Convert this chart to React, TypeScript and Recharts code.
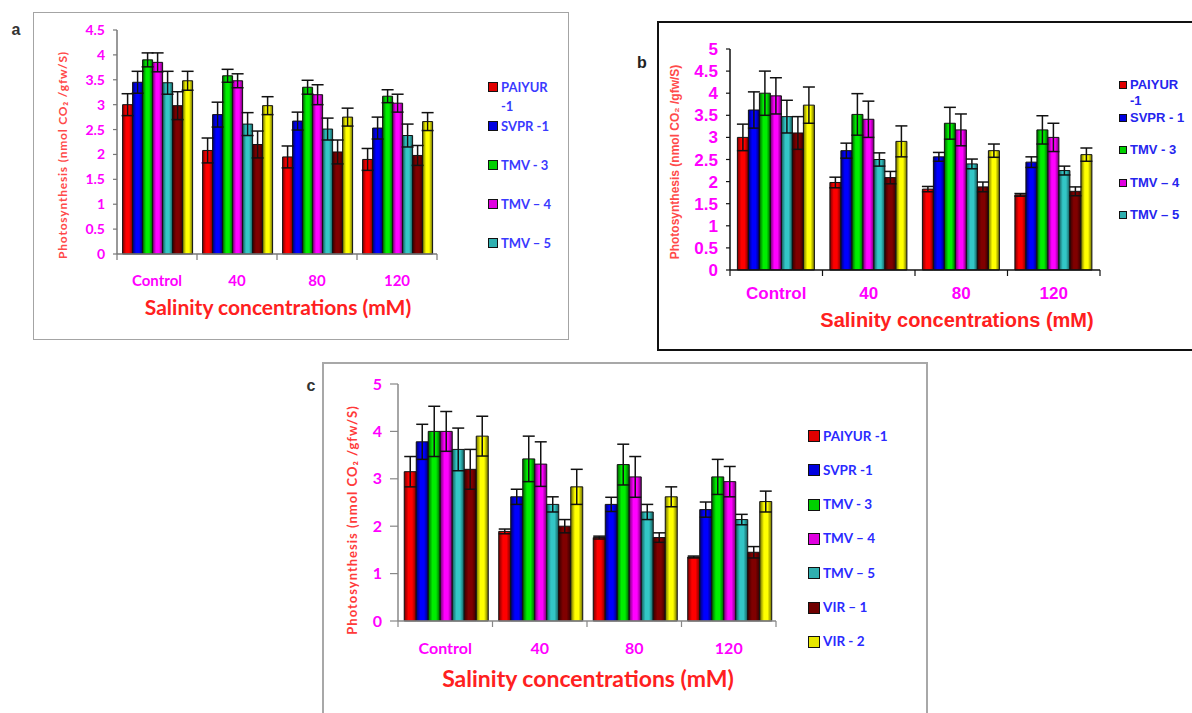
import React from 'react';
import { BarChart, Bar, XAxis, YAxis, ErrorBar } from 'recharts';

const categories = ['Control', '40', '80', '120'];
const seriesNames = ['PAIYUR -1', 'SVPR -1', 'TMV - 3', 'TMV – 4', 'TMV – 5', 'VIR – 1', 'VIR - 2'];
const seriesNamesB = ['PAIYUR -1', 'SVPR - 1', 'TMV - 3', 'TMV – 4', 'TMV – 5', 'VIR – 1', 'VIR - 2'];

// bar face colours: bright centre, dark edges
const brightColors = ['#ff0000', '#0000ff', '#00ee00', '#ff00ff', '#33c6c6', '#800000', '#ffff00'];
const darkColors = ['#7a0000', '#00006e', '#005c00', '#6e006e', '#145858', '#380000', '#6a6a00'];
const legendColors = ['#e00000', '#0000e0', '#00d000', '#e000e0', '#30b0b0', '#700000', '#e8e800'];

// panel a
const ticksA = [0, 0.5, 1, 1.5, 2, 2.5, 3, 3.5, 4, 4.5];
const meansA = [
  [3.0, 2.08, 1.95, 1.9],
  [3.45, 2.8, 2.67, 2.53],
  [3.9, 3.58, 3.35, 3.17],
  [3.85, 3.48, 3.2, 3.03],
  [3.44, 2.61, 2.51, 2.38],
  [2.98, 2.2, 2.05, 1.98],
  [3.48, 2.98, 2.75, 2.66],
];
const errorsA = [
  [0.22, 0.25, 0.22, 0.22],
  [0.22, 0.25, 0.18, 0.22],
  [0.14, 0.13, 0.14, 0.13],
  [0.19, 0.14, 0.2, 0.18],
  [0.23, 0.23, 0.22, 0.23],
  [0.28, 0.27, 0.24, 0.2],
  [0.19, 0.18, 0.18, 0.18],
];

// panel b
const ticksB = [0, 0.5, 1, 1.5, 2, 2.5, 3, 3.5, 4, 4.5, 5];
const meansB = [
  [3.0, 1.98, 1.83, 1.7],
  [3.62, 2.7, 2.56, 2.44],
  [4.0, 3.52, 3.32, 3.17],
  [3.94, 3.41, 3.17, 3.0],
  [3.47, 2.5, 2.4, 2.25],
  [3.1, 2.09, 1.88, 1.78],
  [3.73, 2.91, 2.7, 2.61],
];
const errorsB = [
  [0.3, 0.12, 0.06, 0.03],
  [0.41, 0.17, 0.1, 0.12],
  [0.5, 0.47, 0.36, 0.32],
  [0.41, 0.41, 0.36, 0.32],
  [0.37, 0.15, 0.11, 0.1],
  [0.37, 0.14, 0.11, 0.1],
  [0.41, 0.35, 0.15, 0.15],
];

// panel c
const ticksC = [0, 1, 2, 3, 4, 5];
const meansC = [
  [3.15, 1.89, 1.76, 1.35],
  [3.78, 2.62, 2.46, 2.35],
  [4.0, 3.42, 3.3, 3.04],
  [4.0, 3.31, 3.04, 2.94],
  [3.62, 2.46, 2.3, 2.14],
  [3.2, 2.0, 1.76, 1.45],
  [3.9, 2.83, 2.62, 2.52],
];
const errorsC = [
  [0.32, 0.05, 0.03, 0.02],
  [0.37, 0.16, 0.15, 0.16],
  [0.53, 0.48, 0.43, 0.37],
  [0.42, 0.47, 0.43, 0.32],
  [0.45, 0.16, 0.16, 0.11],
  [0.42, 0.14, 0.1, 0.12],
  [0.42, 0.37, 0.21, 0.22],
];

const buildRows = (means: number[][], errors: number[][]) =>
  categories.map((cat, i) => {
    const row: Record<string, string | number> = { cat };
    means.forEach((m, j) => {
      row['s' + j] = m[i];
      row['e' + j] = errors[j][i];
    });
    return row;
  });

const LATO = 'Lato, "Open Sans", sans-serif';
const ARIAL = '"Liberation Sans", Arial, sans-serif';

type PanelProps = {
  id: string;
  means: number[][];
  errors: number[][];
  ticks: number[];
  box: { left: number; top: number; w: number; h: number };
  plot: { left: number; top: number; w: number; h: number };
  font: string;
  yFont: number;
  xFont: number;
  xLabelY: number;
  axisColor: string;
  yTickSize: number;
  barGap: string;
};

const Y_W = 40;
const X_H = 30;

function Panel(p: PanelProps) {
  const data = buildRows(p.means, p.errors);
  const band = p.plot.w / categories.length;
  const axisY = p.plot.top + p.plot.h - p.box.top;
  const labelY = p.xLabelY - p.box.top;
  const margin = {
    left: p.plot.left - p.box.left - Y_W,
    top: p.plot.top - p.box.top,
    right: p.box.left + p.box.w - (p.plot.left + p.plot.w),
    bottom: p.box.top + p.box.h - (p.plot.top + p.plot.h) - X_H,
  };

  const XTick = (props: any) => {
    const { x, index, payload } = props;
    return (
      <g>
        <line x1={x - band / 2} x2={x - band / 2} y1={axisY} y2={axisY + 6} stroke={p.axisColor} strokeWidth={1.2} />
        {index === categories.length - 1 && (
          <line x1={x + band / 2} x2={x + band / 2} y1={axisY} y2={axisY + 6} stroke={p.axisColor} strokeWidth={1.2} />
        )}
        <text
          x={x}
          y={labelY}
          textAnchor="middle"
          dominantBaseline="central"
          fill="#ff00ff"
          fontFamily={p.font}
          fontWeight={700}
          fontSize={p.xFont}
        >
          {payload.value}
        </text>
      </g>
    );
  };

  return (
    <div style={{ position: 'absolute', left: p.box.left, top: p.box.top }}>
      <BarChart width={p.box.w} height={p.box.h} data={data} margin={margin} barCategoryGap={p.barGap} barGap={0}>
        <defs>
          {brightColors.map((c, j) => (
            <linearGradient key={j} id={`g-${p.id}-${j}`} x1="0" y1="0" x2="1" y2="0">
              <stop offset="0%" stopColor={darkColors[j]} />
              <stop offset="35%" stopColor={c} />
              <stop offset="65%" stopColor={c} />
              <stop offset="100%" stopColor={darkColors[j]} />
            </linearGradient>
          ))}
        </defs>
        <XAxis
          dataKey="cat"
          height={X_H}
          interval={0}
          tickLine={false}
          axisLine={{ stroke: p.axisColor, strokeWidth: 1.5 }}
          tick={<XTick />}
        />
        <YAxis
          width={Y_W}
          domain={[0, p.ticks[p.ticks.length - 1]]}
          ticks={p.ticks}
          interval={0}
          tickSize={p.yTickSize}
          tickMargin={8}
          axisLine={{ stroke: p.axisColor, strokeWidth: 1.5 }}
          tickLine={{ stroke: p.axisColor, strokeWidth: 1.2 }}
          tick={{ fill: '#ff00ff', fontSize: p.yFont, fontWeight: 700, fontFamily: p.font }}
        />
        {brightColors.map((_, j) => (
          <Bar key={j} dataKey={'s' + j} fill={`url(#g-${p.id}-${j})`} stroke="#111" strokeWidth={1} isAnimationActive={false}>
            <ErrorBar dataKey={'e' + j} width={6} stroke="#111" strokeWidth={1.5} direction="y" />
          </Bar>
        ))}
      </BarChart>
    </div>
  );
}

type LegendProps = {
  names: string[];
  x: number;
  y0: number;
  step: number;
  square: number;
  fontSize: number;
  lineH: number;
  font: string;
  color: string;
  textWidth: number;
};

function LegendBlock({ names, x, y0, step, square, fontSize, lineH, font, color, textWidth }: LegendProps) {
  return (
    <>
      {names.map((n, i) => (
        <div key={n} style={{ position: 'absolute', left: x, top: y0 + i * step - lineH / 2, display: 'flex', alignItems: 'flex-start' }}>
          <div
            style={{
              width: square,
              height: square,
              marginTop: (lineH - square) / 2,
              background: legendColors[i],
              border: '1.5px solid #111',
              boxSizing: 'border-box',
              flexShrink: 0,
            }}
          />
          <div style={{ marginLeft: 3, width: textWidth, fontSize, lineHeight: lineH + 'px', fontWeight: 700, color, fontFamily: font, whiteSpace: 'normal' }}>
            {n}
          </div>
        </div>
      ))}
    </>
  );
}

const textAbs = (left: number, top: number, extra: React.CSSProperties): React.CSSProperties => ({
  position: 'absolute',
  left,
  top,
  transform: 'translate(-50%, -50%)',
  whiteSpace: 'nowrap',
  fontWeight: 700,
  ...extra,
});

const yTitle = 'Photosynthesis  (nmol CO\u2082 /gfw/S)';
const xTitle = 'Salinity concentrations (mM)';

export default function App() {
  return (
    <div style={{ position: 'absolute', left: 0, top: 0, width: 1192, height: 713, overflow: 'hidden', background: '#fff' }}>
      {/* frames */}
      <div style={{ position: 'absolute', left: 33, top: 12, width: 536, height: 328, border: '1.5px solid #a4a4a4', boxSizing: 'border-box' }} />
      <div style={{ position: 'absolute', left: 657, top: 21, width: 580, height: 330, border: '2px solid #111', boxSizing: 'border-box' }} />
      <div style={{ position: 'absolute', left: 322, top: 362, width: 606, height: 400, border: '2px solid #a8a8a8', boxSizing: 'border-box' }} />

      {/* panel letters */}
      <div style={textAbs(16, 30, { fontFamily: ARIAL, fontSize: 16, color: '#333' })}>a</div>
      <div style={textAbs(642, 63, { fontFamily: ARIAL, fontSize: 16, color: '#222' })}>b</div>
      <div style={textAbs(311, 386, { fontFamily: ARIAL, fontSize: 16, color: '#333' })}>c</div>

      <Panel
        id="a"
        means={meansA}
        errors={errorsA}
        ticks={ticksA}
        box={{ left: 40, top: 14, w: 420, h: 300 }}
        plot={{ left: 117, top: 30, w: 320, h: 224 }}
        font={LATO}
        yFont={14}
        xFont={15}
        xLabelY={280}
        axisColor="#777"
        yTickSize={4}
        barGap="7%"
      />
      <Panel
        id="b"
        means={meansB}
        errors={errorsB}
        ticks={ticksB}
        box={{ left: 665, top: 24, w: 460, h: 300 }}
        plot={{ left: 730, top: 49, w: 370, h: 221 }}
        font={ARIAL}
        yFont={17}
        xFont={17}
        xLabelY={293}
        axisColor="#111"
        yTickSize={4}
        barGap="8%"
      />
      <Panel
        id="c"
        means={meansC}
        errors={errorsC}
        ticks={ticksC}
        box={{ left: 330, top: 366, w: 470, h: 320 }}
        plot={{ left: 398, top: 384, w: 378, h: 237 }}
        font={LATO}
        yFont={16}
        xFont={16}
        xLabelY={647}
        axisColor="#888"
        yTickSize={8}
        barGap="6.6%"
      />

      {/* axis titles */}
      <div style={textAbs(278, 306, { fontFamily: LATO, fontSize: 21, color: '#ff2020' })}>{xTitle}</div>
      <div style={textAbs(957, 320, { fontFamily: ARIAL, fontSize: 20, color: '#ff2020' })}>{xTitle}</div>
      <div style={textAbs(588, 678, { fontFamily: LATO, fontSize: 23, color: '#ff2020' })}>{xTitle}</div>

      <div style={{ ...textAbs(62, 155, { fontFamily: LATO, fontSize: 12, color: '#ff4a4a', letterSpacing: 0.8 }), transform: 'translate(-50%, -50%) rotate(-90deg)' }}>{yTitle}</div>
      <div style={{ ...textAbs(675, 162, { fontFamily: ARIAL, fontSize: 12, color: '#ff4a4a' }), transform: 'translate(-50%, -50%) rotate(-90deg)' }}>{yTitle}</div>
      <div style={{ ...textAbs(352, 520, { fontFamily: LATO, fontSize: 13, color: '#ff3a3a', letterSpacing: 1 }), transform: 'translate(-50%, -50%) rotate(-90deg)' }}>{yTitle}</div>

      {/* legends */}
      <LegendBlock names={seriesNames.slice(0, 5)} x={488} y0={87} step={39} square={10} fontSize={13} lineH={19} font={LATO} color="#3a3aff" textWidth={52} />
      <LegendBlock names={seriesNamesB.slice(0, 5)} x={1119} y0={85} step={32.5} square={8} fontSize={13} lineH={16} font={ARIAL} color="#2525ee" textWidth={62} />
      <LegendBlock names={seriesNames} x={808} y0={436} step={34.3} square={12} fontSize={13.5} lineH={19} font={LATO} color="#2a2aff" textWidth={90} />
    </div>
  );
}
